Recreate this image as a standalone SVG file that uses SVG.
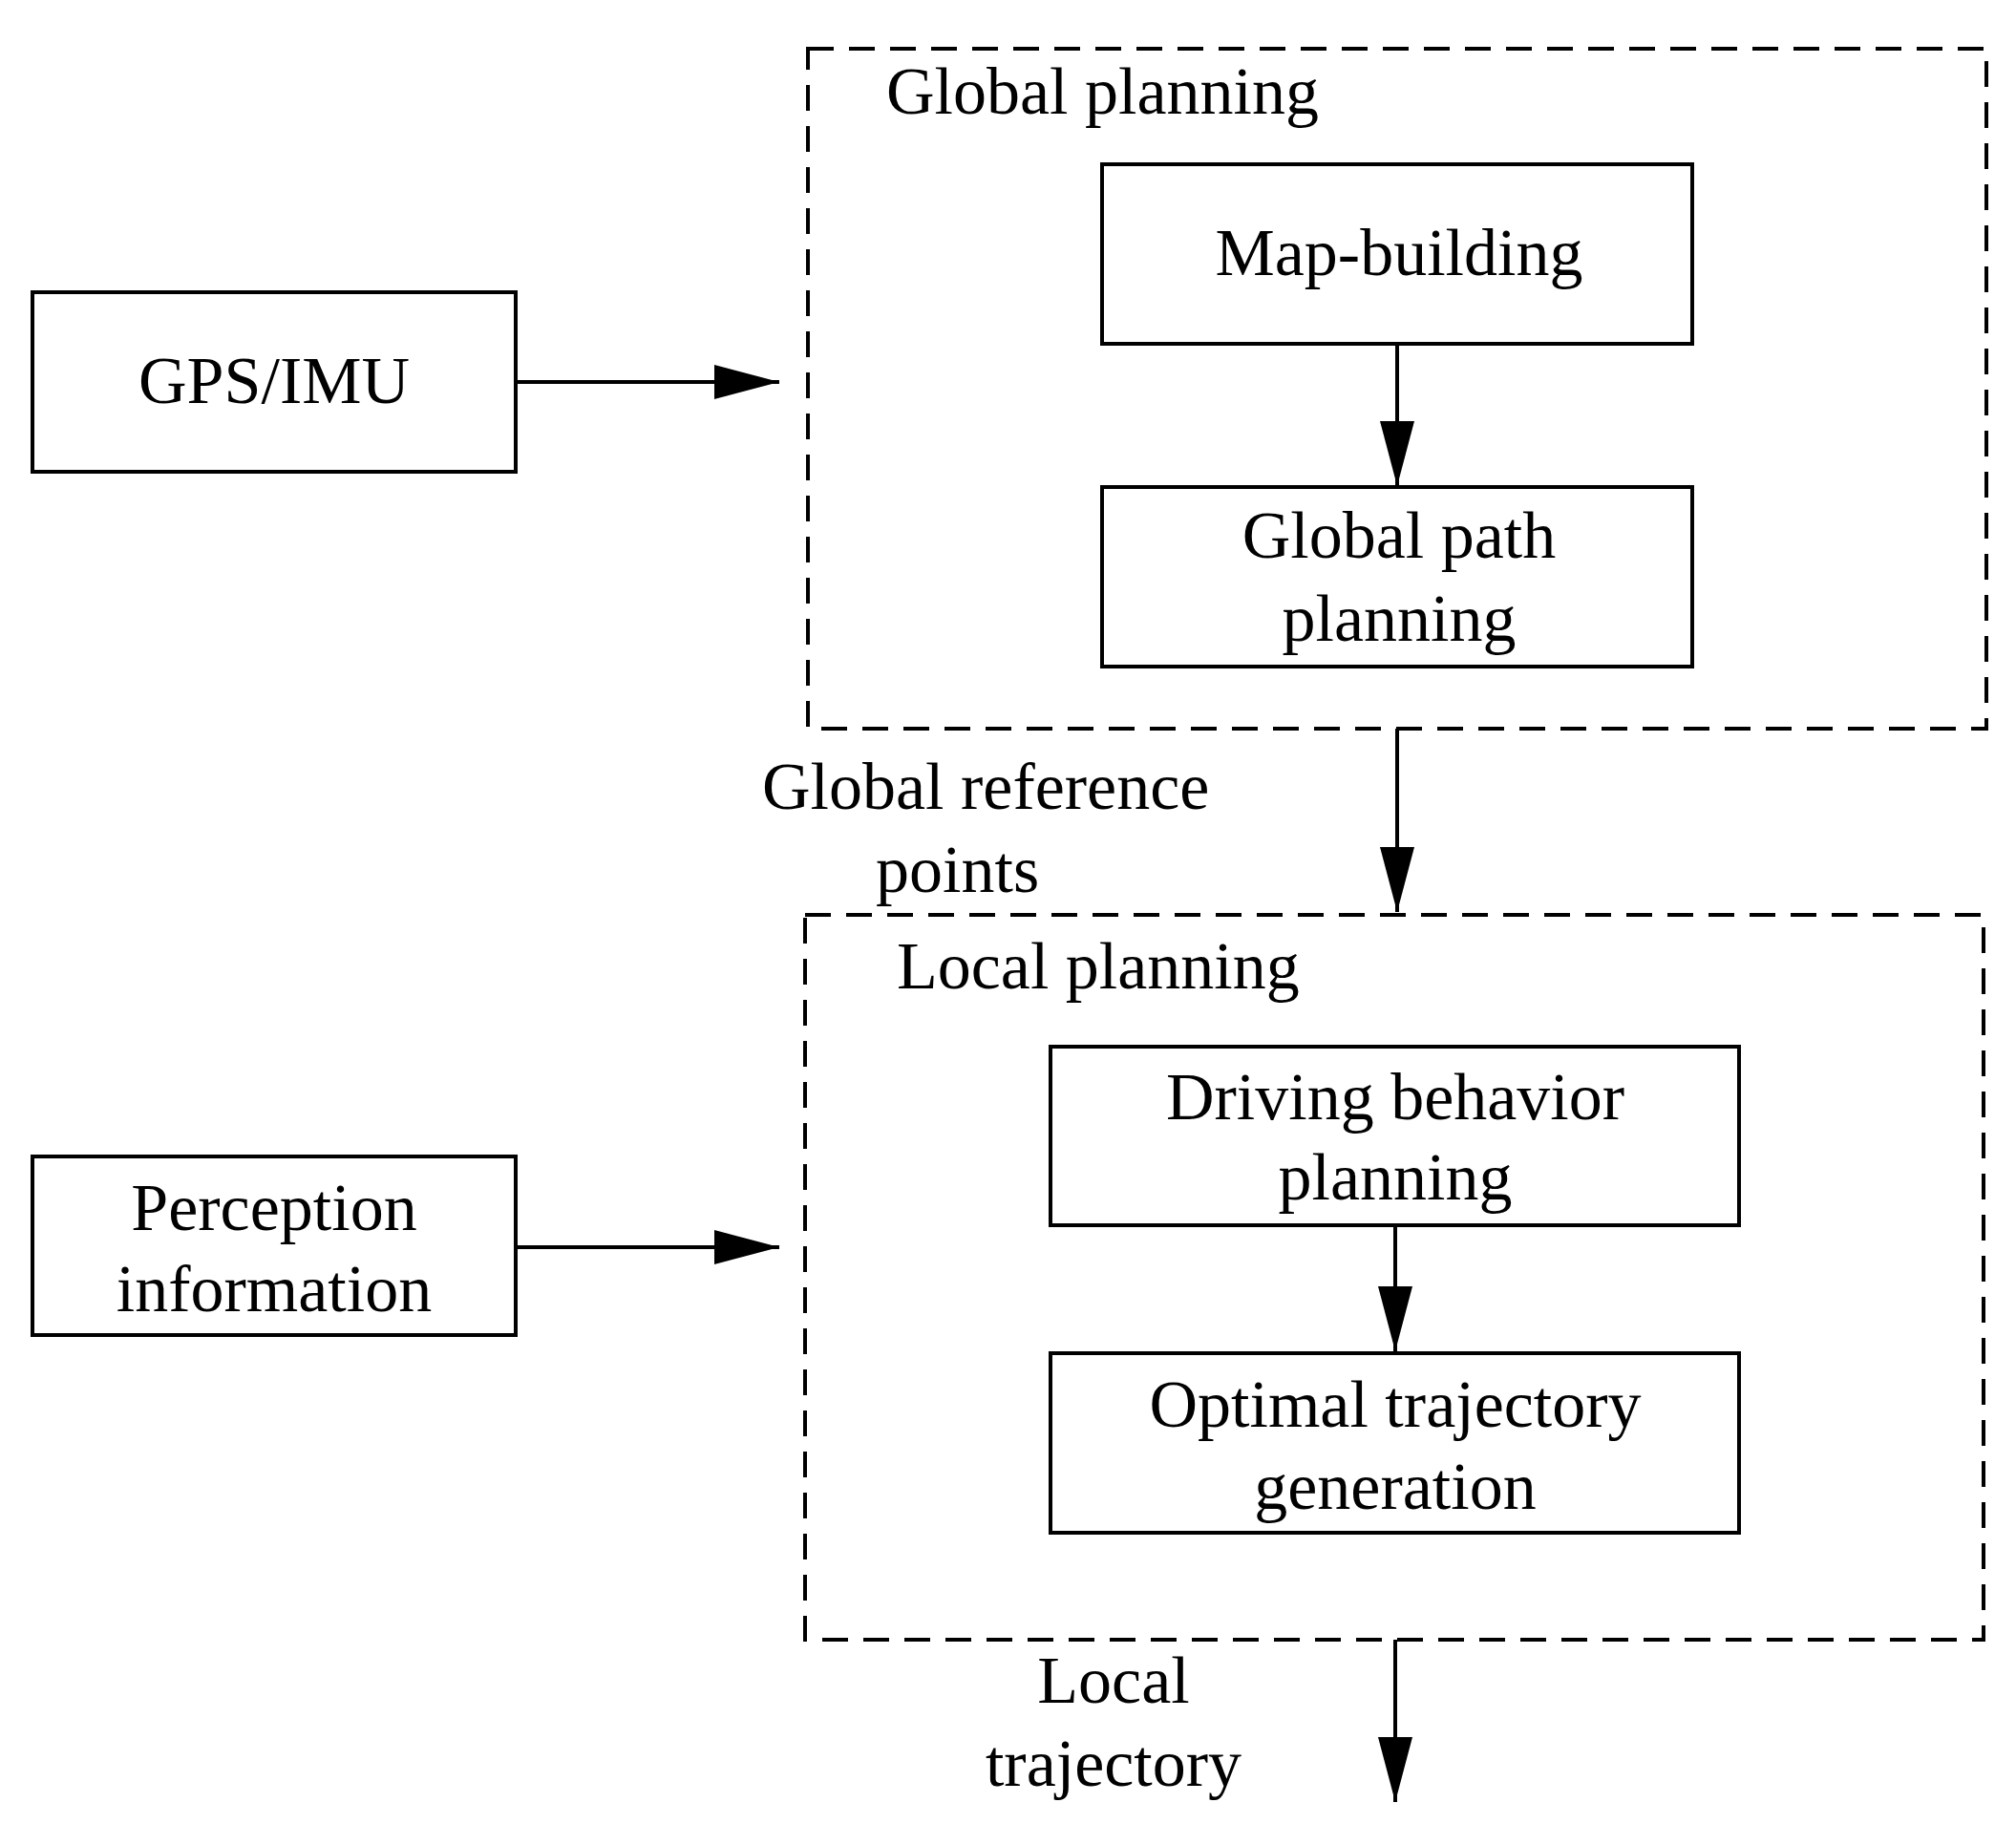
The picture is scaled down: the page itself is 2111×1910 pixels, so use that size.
<svg xmlns="http://www.w3.org/2000/svg" width="2111" height="1910" viewBox="0 0 2111 1910">
<style>
.b{fill:#fff;stroke:#000;stroke-width:4}
.d{fill:none;stroke:#000;stroke-width:4;stroke-dasharray:27 16}
.t{font-family:"Liberation Serif",serif;font-size:70px;fill:#000}
.m{text-anchor:middle}
.c{stroke:#000;stroke-width:4;fill:none;marker-end:url(#a)}
</style>
<defs><marker id="a" markerUnits="userSpaceOnUse" markerWidth="70" markerHeight="36" refX="68" refY="18" orient="auto"><path d="M0,0 L68,18 L0,36 Z" fill="#000"/></marker></defs>
<rect width="2111" height="1910" fill="#fff"/>
<g id="global"><rect class="d" x="846" y="51" width="1234" height="712"/><text class="t" x="928" y="119">Global planning</text></g>
<g id="map"><rect class="b" x="1154" y="172" width="618" height="188"/><text class="t m" x="1465" y="288">Map-building</text></g>
<g id="gpp"><rect class="b" x="1154" y="510" width="618" height="188"/><text class="t m" x="1465" y="584">Global path</text><text class="t m" x="1465" y="671">planning</text></g>
<g id="gps"><rect class="b" x="34" y="306" width="506" height="188"/><text class="t m" x="287" y="422">GPS/IMU</text></g>
<g id="local"><rect class="d" x="843" y="958" width="1234" height="759"/><text class="t" x="939" y="1035">Local planning</text></g>
<g id="drive"><rect class="b" x="1100" y="1096" width="721" height="187"/><text class="t m" x="1461" y="1172">Driving behavior</text><text class="t m" x="1461" y="1256">planning</text></g>
<g id="opt"><rect class="b" x="1100" y="1417" width="721" height="188"/><text class="t m" x="1461" y="1494">Optimal trajectory</text><text class="t m" x="1461" y="1580">generation</text></g>
<g id="perc"><rect class="b" x="34" y="1211" width="506" height="187"/><text class="t m" x="287" y="1288">Perception</text><text class="t m" x="287" y="1373">information</text></g>
<g id="connectors">
<line class="c" x1="1463" y1="360" x2="1463" y2="509"/>
<line class="c" x1="540" y1="400" x2="816" y2="400"/>
<line class="c" x1="1463" y1="763" x2="1463" y2="955"/>
<line class="c" x1="1461" y1="1283" x2="1461" y2="1415"/>
<line class="c" x1="540" y1="1306" x2="816" y2="1306"/>
<line class="c" x1="1461" y1="1717" x2="1461" y2="1887"/>
<text class="t" x="798" y="847">Global reference</text><text class="t" x="917" y="934">points</text>
<text class="t m" x="1166" y="1783">Local</text><text class="t m" x="1166" y="1870">trajectory</text>
</g>
</svg>
